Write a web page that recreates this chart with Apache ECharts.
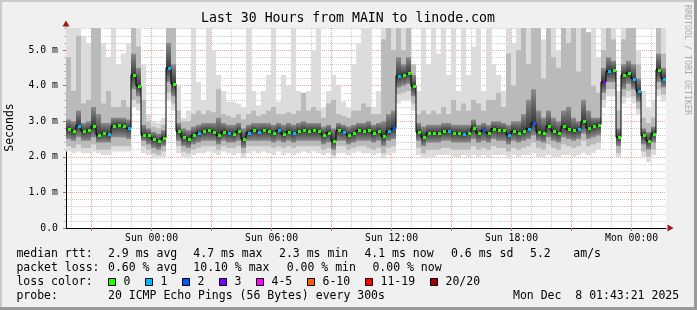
<!DOCTYPE html>
<html><head><meta charset="utf-8">
<script src="https://cdn.jsdelivr.net/npm/echarts@6/dist/echarts.min.js"></script>
<style>html,body{margin:0;padding:0;background:#f0f0f0}#c{width:697px;height:310px}</style>
</head><body><div id="c"></div>
<script>
// ---- time frame (hours since Sat 00:00) ----
const startHour = 19 + 43/60 + 21/3600;   // Sat 19:43:21
const endHour = startHour + 30;           // Mon 01:43:21
const binHours = 0.25;                    // one value per 15 minutes
const yMax = 5.62;

// ---- median RTT (ms) per bin ----
const median = [
 2.77,2.72,2.88,2.72,2.74,2.86,2.62,2.67,2.63,2.86,
 2.89,2.86,2.80,4.30,4.00,2.62,2.60,2.50,2.45,2.53,
 4.50,4.05,2.72,2.55,2.50,2.60,2.68,2.72,2.74,2.70,
 2.60,2.70,2.66,2.64,2.72,2.50,2.68,2.74,2.70,2.74,
 2.72,2.67,2.74,2.64,2.70,2.67,2.72,2.74,2.72,2.74,
 2.72,2.62,2.68,2.45,2.74,2.70,2.62,2.66,2.74,2.72,
 2.74,2.67,2.72,2.58,2.72,2.80,4.27,4.31,4.35,3.99,
 2.70,2.55,2.67,2.67,2.67,2.72,2.72,2.67,2.67,2.64,
 2.67,2.81,2.67,2.74,2.67,2.79,2.74,2.74,2.62,2.72,
 2.67,2.72,2.79,2.95,2.70,2.67,2.86,2.72,2.67,2.86,
 2.77,2.74,2.77,3.00,2.81,2.86,2.90,4.10,4.41,4.43,
 2.55,4.30,4.36,4.20,3.85,2.60,2.45,2.65,4.45,4.20];

// ---- smoke (ping distribution) per bin ----
const pingMin = [
 2.15,2.1,2.15,2.1,2.1,2.15,2.1,2.05,2.05,2.15,
 2.15,2.15,2.15,3.4,3.3,2.1,2.05,1.95,1.95,2.0,
 3.6,3.3,2.1,2.0,1.95,2.05,2.1,2.1,2.15,2.1,
 2.05,2.15,2.1,2.05,2.1,1.95,2.1,2.15,2.1,2.15,
 2.1,2.05,2.15,2.05,2.1,2.05,2.1,2.15,2.1,2.15,
 2.1,2.05,2.1,1.95,2.1,2.1,2.05,2.1,2.15,2.1,
 2.1,2.05,2.1,1.95,2.05,2.1,3.5,3.6,3.6,3.3,
 2.05,1.95,2.0,2.0,2.05,2.05,2.05,2.0,2.0,2.05,
 2.0,2.05,2.0,2.05,2.0,2.05,2.05,2.05,1.95,2.05,
 2.0,2.05,2.05,2.1,2.0,2.0,2.05,2.0,2.0,2.05,
 2.05,2.0,2.05,2.1,2.05,2.1,2.2,3.4,3.7,3.7,
 2.0,3.5,3.65,3.5,3.2,2.0,1.85,2.05,3.7,3.55];
const ping10 = [
 2.3,2.25,2.35,2.25,2.25,2.35,2.2,2.2,2.2,2.3,
 2.3,2.3,2.3,3.6,3.5,2.3,2.2,2.1,2.05,2.15,
 3.8,3.5,2.3,2.15,2.1,2.2,2.25,2.3,2.3,2.3,
 2.2,2.3,2.25,2.25,2.3,2.1,2.3,2.3,2.3,2.3,
 2.3,2.25,2.3,2.25,2.3,2.25,2.3,2.3,2.3,2.3,
 2.3,2.2,2.25,2.05,2.3,2.3,2.2,2.25,2.3,2.3,
 2.25,2.2,2.25,2.1,2.25,2.3,3.75,3.8,3.85,3.5,
 2.25,2.1,2.2,2.2,2.2,2.25,2.25,2.2,2.2,2.2,
 2.2,2.3,2.2,2.25,2.2,2.3,2.25,2.25,2.15,2.25,
 2.2,2.25,2.3,2.4,2.25,2.2,2.35,2.25,2.2,2.35,
 2.3,2.25,2.3,2.45,2.3,2.35,2.4,3.6,3.9,3.9,
 2.1,3.7,3.85,3.7,3.35,2.15,2.0,2.2,3.9,3.75];
const ping25 = [
 2.5,2.45,2.55,2.45,2.45,2.55,2.4,2.4,2.4,2.55,
 2.55,2.55,2.5,3.9,3.7,2.45,2.35,2.25,2.2,2.3,
 4.1,3.7,2.45,2.3,2.25,2.35,2.4,2.45,2.45,2.45,
 2.35,2.45,2.4,2.4,2.45,2.25,2.45,2.45,2.45,2.45,
 2.45,2.4,2.45,2.4,2.45,2.4,2.45,2.45,2.45,2.45,
 2.45,2.35,2.4,2.2,2.45,2.45,2.35,2.4,2.45,2.45,
 2.45,2.4,2.45,2.3,2.45,2.5,3.95,4.0,4.05,3.7,
 2.45,2.3,2.4,2.4,2.4,2.45,2.45,2.4,2.4,2.4,
 2.4,2.5,2.4,2.45,2.4,2.5,2.45,2.45,2.35,2.45,
 2.4,2.45,2.5,2.6,2.45,2.4,2.55,2.45,2.4,2.55,
 2.5,2.45,2.5,2.65,2.5,2.55,2.6,3.8,4.1,4.1,
 2.3,3.9,4.05,3.9,3.55,2.35,2.2,2.4,4.1,3.95];
const ping75 = [
 3.05,3.0,3.3,2.95,3.0,3.4,3.2,2.95,2.95,3.1,
 3.1,3.1,3.05,4.9,4.5,2.9,2.8,2.7,2.65,2.75,
 5.2,4.6,2.95,2.8,2.75,2.85,2.9,2.95,2.95,2.95,
 3.1,2.95,2.9,2.9,2.95,2.8,2.9,2.95,2.95,2.95,
 2.95,2.9,2.95,2.9,2.95,2.9,2.95,3.0,2.95,2.95,
 2.95,2.85,2.9,2.8,2.95,2.9,2.85,2.9,2.95,2.95,
 3.0,2.9,2.95,3.0,3.2,3.3,4.8,4.6,4.8,4.3,
 2.95,2.85,2.9,2.9,2.9,2.95,2.95,2.9,2.9,2.9,
 2.9,3.05,2.9,2.95,2.9,3.0,3.0,2.95,2.9,3.0,
 3.0,3.2,3.6,3.9,3.3,3.1,3.3,3.1,3.0,3.3,
 3.4,3.1,3.0,3.6,3.3,3.1,3.1,4.5,4.8,4.7,
 2.8,4.6,4.7,4.6,4.2,2.8,2.7,2.85,4.9,4.5];
const ping90 = [
 4.8,3.85,5.4,3.5,3.6,6,6,3.5,3.85,3.4,
 3.4,3.6,3.4,6,5.1,3.6,3.0,2.85,2.8,2.9,
 6,6,3.3,3.0,3.0,3.2,3.3,3.2,3.3,3.25,
 3.9,3.2,3.15,3.1,3.2,3.05,3.2,3.3,3.15,3.2,
 3.3,3.4,3.2,3.2,3.25,3.2,3.3,3.8,3.3,3.4,
 3.3,3.1,3.5,3.6,3.2,3.15,3.1,3.3,3.3,3.5,
 3.4,3.2,3.2,5.3,6,5.0,6,5.0,6,4.6,
 3.2,3.3,3.2,3.3,3.2,3.4,3.2,3.6,3.3,3.5,
 3.3,3.6,3.5,3.3,3.6,3.6,3.8,3.4,4.9,4.0,
 5.0,6,4.6,6,6,4.2,6,4.8,4.5,6,
 5.2,6,4.4,6,5.5,4.0,3.8,5.0,6,5.3,
 3.3,5.3,6,6,4.6,3.1,2.95,3.1,6,4.9];
const pingMax = [
 6,6,6,5.4,5.2,6,6,5.2,4.8,6,
 4.6,4.9,5.2,6,6,4.6,3.2,3.0,2.95,3.1,
 6,6,4.0,3.1,3.3,6,4.1,3.6,6,5.0,
 4.3,3.85,3.55,3.55,3.5,3.4,6,3.85,3.45,3.85,
 4.3,6,3.55,4.3,4.0,6,3.85,3.4,3.85,5.0,
 6,3.4,3.85,4.3,4.0,3.55,3.4,4.6,5.2,6,
 6,3.4,3.85,6,6,6,6,6,6,4.3,
 3.85,6,4.6,6,4.9,6,4.3,6,3.85,6,
 4.3,5.1,6,3.85,6,4.6,4.3,3.85,6,5.2,
 6,6,6,6,6,5.3,6,6,5.0,6,
 6,6,6,6,5.5,6,4.8,6,6,6,
 3.85,6,6,6,5.0,3.85,3.4,3.6,6,6];

// ---- packet loss class per bin (index into lossLabels) ----
const lossIdx = [
 0,0,1,0,0,0,0,0,1,0,
 0,0,1,0,0,0,0,0,0,0,
 1,0,0,0,0,0,1,0,0,0,
 0,0,1,0,0,0,1,0,1,0,
 0,0,1,0,0,1,0,0,0,0,
 0,0,0,0,0,1,0,0,0,0,
 0,0,0,0,1,2,1,0,0,0,
 0,0,0,0,0,0,1,0,0,1,
 0,0,0,2,0,0,0,0,1,0,
 0,0,1,2,0,0,0,0,0,0,
 0,0,1,0,0,0,0,3,1,0,
 0,0,0,1,1,0,0,0,0,1];

// ---- axes ----
const hourTicks = [20,22,23,25,26,28,29,31,32,34,35,37,38,40,41,43,44,46,47,49];
const majorTicks = [21,24,27,30,33,36,39,42,45,48];
const labelTicks = [24,30,36,42,48];
const labelTexts = ['Sun 00:00','Sun 06:00','Sun 12:00','Sun 18:00','Mon 00:00'];
const yMinorTicks = [0.2,0.4,0.6,0.8,1.2,1.4,1.6,1.8,2.2,2.4,2.6,2.8,3.2,3.4,3.6,3.8,4.2,4.4,4.6,4.8,5.2,5.4,5.6];
const yMajorTicks = [0,1,2,3,4,5];
const yLabelTexts = ['0.0','1.0 m','2.0 m','3.0 m','4.0 m','5.0 m'];

// ---- legend texts ----
const titleText = 'Last 30 Hours from MAIN to linode.com';
const rttStats = ['2.9 ms avg','4.7 ms max','2.3 ms min','4.1 ms now','0.6 ms sd','5.2','am/s'];
const lossStats = ['0.60 % avg','10.10 % max','0.00 % min','0.00 % now'];
const lossLabels = ['0','1','2','3','4-5','6-10','11-19','20/20'];
const lossColors = ['#26ff00','#00b8ff','#0059ff','#7e00ff','#ff00ff','#ff5e00','#ff0000','#a10000'];
const probeText = '20 ICMP Echo Pings (56 Bytes) every 300s';
const stampText = 'Mon Dec  8 01:43:21 2025';

// ---- build ----
const times = median.map((m, i) => startHour + (i + 0.5) * binHours);
const smokeData = times.map((t, i) => [t, pingMin[i], ping10[i], ping25[i], ping75[i], ping90[i], pingMax[i], median[i]]);
const lineData = times.map((t, i) => [t, median[i]]);
const dotData = times.map((t, i) => [t, median[i], lossIdx[i]]);

const MONO = '"DejaVu Sans Mono", monospace';
const f = (s) => s + 'px ' + MONO;

const graphics = [];
// frame
graphics.push({type:'rect', shape:{x:0,y:0,width:697,height:2}, style:{fill:'#cbcbcb'}, silent:true});
graphics.push({type:'rect', shape:{x:0,y:0,width:2,height:310}, style:{fill:'#cbcbcb'}, silent:true});
graphics.push({type:'rect', shape:{x:0,y:307,width:697,height:3}, style:{fill:'#999'}, silent:true});
graphics.push({type:'rect', shape:{x:694,y:0,width:3,height:310}, style:{fill:'#999'}, silent:true});
// title
graphics.push({type:'text', x:348, y:19, style:{text:titleText, font:f(13.2), fill:'#000', align:'center', verticalAlign:'middle'}});
// y name
graphics.push({type:'text', x:10.5, y:127.5, rotation:Math.PI/2, style:{text:'Seconds', font:f(11.5), fill:'#000', align:'center', verticalAlign:'middle'}});
// watermark
graphics.push({type:'text', x:687.5, y:60, rotation:-Math.PI/2, style:{text:'RRDTOOL / TOBI OETIKER', font:f(8.3), fill:'#ababab', align:'center', verticalAlign:'middle'}});
// arrows
graphics.push({type:'polygon', shape:{points:[[62.5,26.5],[69.5,26.5],[66,20.5]]}, style:{fill:'#a01818'}, z:20});
graphics.push({type:'polygon', shape:{points:[[667.5,224.5],[667.5,231.5],[673.5,228]]}, style:{fill:'#a01818'}, z:20});
// legend rows
const rowY = [254, 268.3, 282, 296];
const leftX = 16.4;
const txt = (s, x, y) => ({type:'text', x:x, y:y, style:{text:s, font:f(11.5), fill:'#000', align:'left', verticalAlign:'middle'}});
graphics.push(txt('median rtt:', leftX, rowY[0]));
const rttX = [108, 193.3, 279, 364.4, 451, 530, 573.3];
rttStats.forEach((s, i) => graphics.push(txt(s, rttX[i], rowY[0])));
graphics.push(txt('packet loss:', leftX, rowY[1]));
const lossX = [108, 193.3, 286.7, 372.4];
lossStats.forEach((s, i) => graphics.push(txt(s, lossX[i], rowY[1])));
graphics.push(txt('loss color:', leftX, rowY[2]));
const boxX = [108.5, 145.5, 182.5, 219.5, 256.5, 307.5, 365.5, 430.5];
lossLabels.forEach((s, i) => {
  graphics.push({type:'rect', shape:{x:boxX[i], y:278.5, width:7, height:7}, style:{fill:lossColors[i], stroke:'#000', lineWidth:1}});
  graphics.push(txt(s, boxX[i] + 15, rowY[2]));
});
graphics.push(txt('probe:', leftX, rowY[3]));
graphics.push(txt(probeText, 108, rowY[3]));
graphics.push(txt(stampText, 513, rowY[3]));

const minorGrid = {color:'#cccccc', type:[1,1], width:1};
const majorGrid = {color:'#e6a0a0', type:[1,1], width:1};

const chart = echarts.init(document.getElementById('c'), null, {renderer:'canvas'});
chart.setOption({
  animation: false,
  backgroundColor: '#f0f0f0',
  grid: {left:66, top:28, width:600, height:200, containLabel:false, outerBoundsMode:'none', show:true, backgroundColor:'#ffffff', borderWidth:0},
  xAxis: [
    {type:'value', min:startHour, max:endHour, position:'bottom',
     axisLine:{show:true, onZero:false, lineStyle:{color:'#000', width:1}},
     axisTick:{show:false, customValues:hourTicks},
     axisLabel:{show:false},
     splitLine:{show:true, lineStyle:minorGrid}},
    {type:'value', min:startHour, max:endHour, position:'bottom',
     axisLine:{show:false, onZero:false},
     axisTick:{show:true, customValues:majorTicks, length:3, lineStyle:{color:'#d06060'}},
     axisLabel:{show:true, customValues:labelTicks, margin:5, color:'#000', fontFamily:MONO, fontSize:9.8,
       formatter: v => labelTexts[labelTicks.indexOf(v)] || ''},
     splitLine:{show:true, lineStyle:majorGrid}}
  ],
  yAxis: [
    {type:'value', min:0, max:yMax, position:'left',
     axisLine:{show:true, onZero:false, lineStyle:{color:'#000', width:1}},
     axisTick:{show:true, customValues:yMinorTicks, length:2, lineStyle:{color:'#bbbbbb'}},
     axisLabel:{show:false},
     splitLine:{show:true, lineStyle:minorGrid}},
    {type:'value', min:0, max:yMax, position:'left',
     axisLine:{show:false, onZero:false},
     axisTick:{show:true, customValues:yMajorTicks, length:3, lineStyle:{color:'#d06060'}},
     axisLabel:{show:true, customValues:yMajorTicks, margin:8, color:'#000', fontFamily:MONO, fontSize:9.8,
       formatter: v => yLabelTexts[yMajorTicks.indexOf(v)] || ''},
     splitLine:{show:true, lineStyle:majorGrid}}
  ],
  graphic: graphics,
  series: [
    {type:'custom', name:'smoke', xAxisIndex:0, yAxisIndex:0, z:1, silent:true,
     encode:{x:0, y:[1,6]},
     data: smokeData,
     renderItem: function(params, api) {
       const t = api.value(0);
       const xl = api.coord([t - binHours/2, 0])[0];
       const xr = api.coord([t + binHours/2, 0])[0];
       const band = function(lo, hi, fill) {
         const yt = api.coord([t, Math.min(hi, yMax)])[1];
         const yb = api.coord([t, lo])[1];
         return {type:'rect', shape:{x:xl, y:yt, width:xr - xl, height:yb - yt}, style:{fill:fill}};
       };
       const lo = api.value(3), hi = api.value(4), m = api.value(7);
       const pos = Math.max(0.05, Math.min(0.95, (Math.min(hi, yMax) - m) / (Math.min(hi, yMax) - lo)));
       const grad = new echarts.graphic.LinearGradient(0, 0, 0, 1, [
         {offset:0, color:'#8c8c8c'}, {offset:pos, color:'#3a3a3a'}, {offset:1, color:'#8c8c8c'}]);
       return {type:'group', children:[
         band(api.value(1), api.value(6), '#dcdcdc'),
         band(api.value(2), api.value(5), '#bababa'),
         band(lo, hi, grad)
       ]};
     }},
    {type:'line', name:'median', xAxisIndex:0, yAxisIndex:0, z:5, silent:true,
     step:'middle', symbol:'none', data: lineData,
     lineStyle:{color:'#000', width:1}},
    {type:'custom', name:'loss', xAxisIndex:0, yAxisIndex:0, z:6, silent:true,
     encode:{x:0, y:1},
     data: dotData,
     renderItem: function(params, api) {
       const c = api.coord([api.value(0), api.value(1)]);
       return {type:'rect', shape:{x:Math.round(c[0]) - 1, y:Math.round(c[1]) - 1, width:3, height:3},
               style:{fill: lossColors[api.value(2)]}};
     }}
  ]
});
</script>
</body></html>
